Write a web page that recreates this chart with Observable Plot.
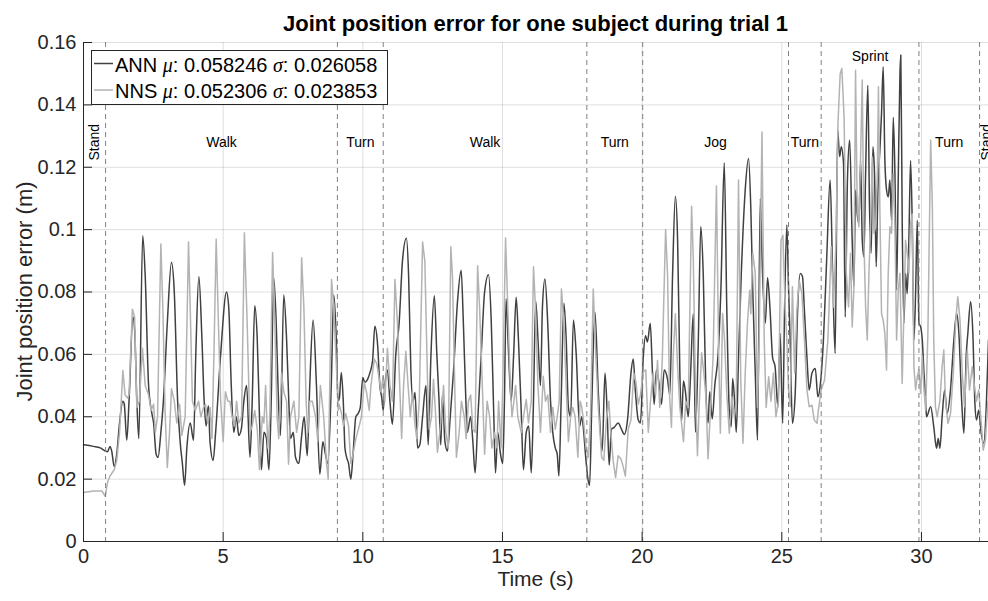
<!DOCTYPE html>
<html>
<head>
<meta charset="utf-8">
<script src="https://cdn.jsdelivr.net/npm/d3@7"></script>
<script src="https://cdn.jsdelivr.net/npm/@observablehq/plot@0.6"></script>
<style>
  html, body { margin: 0; padding: 0; background: #fff; }
  #chart svg { display: block; }
</style>
</head>
<body>
<div id="chart"></div>
<script>
// Joint position error per frame, [time (s), error (m)]
const annSeries = [
  [0,0.031],[0.36,0.0305],[0.6,0.030],[0.78,0.029],[0.86,0.0288],[0.95,0.0305],[1.01,0.029],[1.10,0.024],[1.19,0.028],[1.29,0.038],
  [1.41,0.045],[1.46,0.044],[1.55,0.0325],[1.63,0.045],[1.77,0.072],[1.83,0.068],[1.91,0.045],[1.98,0.033],[2.12,0.098],[2.21,0.085],
  [2.33,0.05],[2.45,0.041],[2.51,0.038],[2.60,0.028],[2.67,0.027],[2.77,0.035],[2.86,0.045],[3.0,0.07],[3.15,0.0895],[3.25,0.080],
  [3.37,0.045],[3.46,0.032],[3.54,0.025],[3.62,0.018],[3.70,0.030],[3.82,0.038],[3.94,0.0325],[4.02,0.06],[4.13,0.085],[4.24,0.065],
  [4.32,0.045],[4.39,0.037],[4.47,0.0435],[4.53,0.032],[4.64,0.026],[4.73,0.035],[4.91,0.06],[5.12,0.080],[5.20,0.075],[5.29,0.05],
  [5.38,0.035],[5.47,0.04],[5.56,0.034],[5.65,0.036],[5.74,0.045],[5.84,0.05],[5.96,0.027],[6.04,0.045],[6.13,0.0756],[6.22,0.065],
  [6.30,0.04],[6.37,0.023],[6.46,0.035],[6.55,0.033],[6.64,0.023],[6.72,0.045],[6.81,0.0845],[6.90,0.07],[6.98,0.045],[7.05,0.034],
  [7.17,0.079],[7.27,0.065],[7.35,0.045],[7.41,0.033],[7.51,0.035],[7.59,0.027],[7.71,0.025],[7.80,0.033],[7.90,0.04],[8.01,0.0275],
  [8.10,0.05],[8.22,0.071],[8.34,0.05],[8.46,0.0216],[8.57,0.032],[8.66,0.028],[8.75,0.025],[8.87,0.05],[8.96,0.079],[9.06,0.062],
  [9.11,0.045],[9.16,0.046],[9.23,0.0542],[9.30,0.045],[9.36,0.03],[9.42,0.027],[9.49,0.025],[9.57,0.02],[9.65,0.028],[9.75,0.040],
  [9.83,0.041],[9.91,0.043],[10.0,0.0526],[10.07,0.051],[10.17,0.052],[10.25,0.054],[10.35,0.058],[10.43,0.069],[10.53,0.063],[10.61,0.05],
  [10.68,0.046],[10.73,0.042],[10.79,0.05],[10.88,0.055],[10.97,0.045],[11.06,0.0376],[11.18,0.06],[11.30,0.07],[11.42,0.09],[11.56,0.0972],
  [11.64,0.085],[11.72,0.055],[11.80,0.045],[11.87,0.0478],[11.96,0.03],[12.04,0.031],[12.14,0.04],[12.26,0.05],[12.34,0.031],[12.44,0.06],
  [12.56,0.0788],[12.65,0.06],[12.73,0.045],[12.79,0.031],[12.85,0.047],[12.94,0.032],[13.03,0.029],[13.13,0.04],[13.25,0.055],[13.39,0.077],
  [13.52,0.087],[13.60,0.07],[13.69,0.045],[13.74,0.035],[13.86,0.04],[13.94,0.032],[14.02,0.022],[14.12,0.04],[14.24,0.06],[14.36,0.08],
  [14.50,0.0855],[14.60,0.07],[14.69,0.04],[14.75,0.022],[14.83,0.035],[14.93,0.028],[15.01,0.025],[15.07,0.045],[15.13,0.0778],[15.22,0.06],
  [15.31,0.045],[15.40,0.06],[15.49,0.0783],[15.57,0.065],[15.67,0.042],[15.75,0.023],[15.85,0.035],[15.94,0.037],[16.03,0.022],[16.11,0.045],
  [16.19,0.077],[16.27,0.065],[16.36,0.05],[16.43,0.075],[16.52,0.0842],[16.62,0.07],[16.72,0.045],[16.80,0.035],[16.89,0.03],[16.96,0.028],
  [17.02,0.021],[17.10,0.045],[17.20,0.0764],[17.28,0.065],[17.36,0.043],[17.44,0.04],[17.54,0.071],[17.64,0.06],[17.76,0.037],[17.84,0.04],
  [17.91,0.035],[17.97,0.028],[18.06,0.02],[18.12,0.018],[18.20,0.045],[18.31,0.0736],[18.43,0.048],[18.57,0.029],[18.67,0.054],[18.75,0.041],
  [18.82,0.0245],[18.90,0.036],[19.0,0.0366],[19.14,0.038],[19.26,0.036],[19.36,0.0343],[19.48,0.0393],[19.60,0.054],[19.68,0.0585],[19.76,0.048],
  [19.86,0.039],[19.94,0.038],[20.04,0.059],[20.12,0.066],[20.19,0.064],[20.29,0.070],[20.37,0.054],[20.43,0.044],[20.51,0.055],[20.60,0.051],
  [20.69,0.044],[20.79,0.055],[20.91,0.052],[20.99,0.047],[21.09,0.0856],[21.19,0.1107],[21.27,0.0965],[21.35,0.054],[21.41,0.0385],[21.48,0.0515],
  [21.55,0.048],[21.65,0.04],[21.73,0.0527],[21.83,0.073],[21.91,0.035],[22.01,0.064],[22.10,0.101],[22.19,0.085],[22.28,0.049],[22.36,0.038],
  [22.42,0.048],[22.51,0.0393],[22.60,0.05],[22.72,0.06],[22.82,0.081],[22.94,0.1214],[23.03,0.075],[23.12,0.042],[23.19,0.0368],[23.24,0.0523],
  [23.31,0.045],[23.37,0.035],[23.45,0.059],[23.55,0.086],[23.69,0.1127],[23.81,0.1228],[23.89,0.107],[23.96,0.0806],[24.05,0.054],[24.13,0.0325],
  [24.23,0.11],[24.31,0.086],[24.41,0.07],[24.49,0.0846],[24.58,0.0742],[24.67,0.059],[24.76,0.056],[24.86,0.043],[24.94,0.0667],[25.03,0.0379],
  [25.10,0.075],[25.18,0.1015],[25.24,0.0817],[25.30,0.0646],[25.38,0.0379],[25.48,0.0475],[25.57,0.075],[25.66,0.0859],[25.74,0.085],[25.81,0.074],
  [25.90,0.059],[25.98,0.0486],[26.08,0.054],[26.20,0.0555],[26.29,0.0464],[26.37,0.0496],[26.49,0.0646],[26.61,0.0913],[26.73,0.1159],[26.82,0.086],
  [26.91,0.0603],[27.0,0.132],[27.07,0.1234],[27.13,0.1266],[27.21,0.1212],[27.27,0.072],[27.35,0.1159],[27.43,0.1287],[27.52,0.0966],[27.58,0.0817],
  [27.64,0.1127],[27.70,0.105],[27.76,0.102],[27.82,0.1222],[27.88,0.0966],[27.94,0.0913],[28.0,0.118],[28.08,0.1463],[28.14,0.1073],[28.20,0.0924],
  [28.26,0.1266],[28.32,0.118],[28.38,0.0881],[28.44,0.1127],[28.51,0.1255],[28.57,0.1372],[28.63,0.1522],[28.69,0.1222],[28.75,0.1127],[28.81,0.1105],
  [28.87,0.1159],[28.93,0.103],[28.99,0.136],[29.05,0.118],[29.11,0.0806],[29.17,0.117],[29.23,0.15],[29.26,0.156],[29.31,0.103],[29.37,0.07],
  [29.43,0.086],[29.49,0.0795],[29.55,0.0966],[29.61,0.1222],[29.67,0.102],[29.73,0.0646],[29.79,0.0795],[29.85,0.103],[29.91,0.07],[29.97,0.0688],
  [30.03,0.0646],[30.09,0.054],[30.15,0.045],[30.18,0.04],[30.33,0.0432],[30.44,0.0368],[30.54,0.0299],[30.60,0.033],[30.66,0.0299],[30.74,0.04],
  [30.83,0.0486],[30.92,0.041],[31.04,0.0486],[31.16,0.0646],[31.26,0.0731],[31.34,0.0667],[31.44,0.045],[31.52,0.0347],[31.60,0.0592],[31.66,0.0667],
  [31.76,0.0769],[31.84,0.0667],[31.91,0.045],[31.97,0.039],[32.05,0.0421],[32.14,0.0347],[32.23,0.0315],[32.32,0.0432],[32.40,0.0646]
];

const nnsSeries = [
  [0,0.0157],[0.36,0.0162],[0.66,0.0162],[0.78,0.0145],[0.86,0.019],[0.95,0.021],[1.10,0.023],[1.19,0.026],[1.29,0.035],[1.41,0.0548],
  [1.49,0.047],[1.58,0.046],[1.63,0.047],[1.75,0.0745],[1.83,0.072],[1.91,0.043],[2.0,0.045],[2.11,0.062],[2.21,0.05],[2.33,0.047],
  [2.42,0.042],[2.51,0.044],[2.57,0.035],[2.65,0.04],[2.77,0.0954],[2.84,0.075],[2.92,0.042],[3.0,0.0237],[3.08,0.035],[3.15,0.049],
  [3.25,0.045],[3.34,0.038],[3.44,0.044],[3.52,0.034],[3.64,0.04],[3.76,0.096],[3.82,0.075],[3.90,0.045],[4.0,0.042],[4.12,0.045],
  [4.20,0.04],[4.30,0.043],[4.37,0.044],[4.44,0.038],[4.53,0.043],[4.60,0.033],[4.67,0.06],[4.75,0.097],[4.83,0.07],[4.91,0.045],
  [5.0,0.032],[5.08,0.048],[5.17,0.045],[5.24,0.045],[5.32,0.04],[5.41,0.037],[5.48,0.045],[5.56,0.038],[5.66,0.04],[5.76,0.099],
  [5.86,0.07],[5.96,0.035],[6.04,0.037],[6.13,0.042],[6.22,0.036],[6.30,0.023],[6.40,0.04],[6.46,0.038],[6.52,0.05],[6.60,0.03],
  [6.67,0.04],[6.77,0.0927],[6.85,0.07],[6.93,0.04],[6.99,0.033],[7.09,0.054],[7.17,0.048],[7.27,0.045],[7.34,0.0248],[7.41,0.04],
  [7.53,0.045],[7.63,0.035],[7.71,0.04],[7.81,0.091],[7.89,0.075],[7.97,0.045],[8.03,0.035],[8.10,0.045],[8.19,0.045],[8.31,0.04],
  [8.39,0.032],[8.48,0.05],[8.60,0.04],[8.70,0.025],[8.76,0.02],[8.88,0.084],[8.96,0.075],[9.06,0.055],[9.12,0.042],[9.15,0.044],
  [9.24,0.041],[9.31,0.037],[9.39,0.041],[9.49,0.037],[9.57,0.025],[9.65,0.028],[9.75,0.033],[9.87,0.037],[9.95,0.04],[10.05,0.051],
  [10.13,0.048],[10.23,0.042],[10.29,0.05],[10.41,0.0585],[10.50,0.057],[10.59,0.052],[10.65,0.048],[10.73,0.053],[10.79,0.045],[10.88,0.062],
  [10.97,0.05],[11.06,0.045],[11.15,0.084],[11.24,0.07],[11.30,0.055],[11.39,0.033],[11.46,0.05],[11.54,0.061],[11.62,0.05],[11.70,0.04],
  [11.78,0.048],[11.86,0.038],[11.93,0.033],[12.02,0.045],[12.14,0.096],[12.22,0.09],[12.32,0.05],[12.38,0.036],[12.46,0.04],[12.53,0.052],
  [12.61,0.04],[12.67,0.0286],[12.77,0.036],[12.89,0.05],[12.97,0.035],[13.06,0.03],[13.15,0.0945],[13.21,0.085],[13.29,0.05],[13.35,0.027],
  [13.45,0.035],[13.53,0.045],[13.63,0.04],[13.70,0.033],[13.78,0.045],[13.86,0.047],[13.94,0.036],[14.02,0.035],[14.11,0.0884],[14.18,0.075],
  [14.26,0.055],[14.36,0.028],[14.45,0.045],[14.54,0.04],[14.62,0.03],[14.72,0.035],[14.80,0.03],[14.86,0.045],[14.95,0.03],[15.01,0.05],
  [15.11,0.0973],[15.19,0.075],[15.28,0.05],[15.34,0.04],[15.41,0.045],[15.47,0.05],[15.55,0.04],[15.67,0.035],[15.75,0.04],[15.85,0.0455],
  [15.93,0.038],[16.03,0.045],[16.11,0.0881],[16.18,0.075],[16.27,0.05],[16.36,0.035],[16.46,0.053],[16.54,0.045],[16.62,0.047],[16.72,0.035],
  [16.80,0.043],[16.89,0.036],[16.96,0.04],[17.03,0.045],[17.11,0.081],[17.20,0.07],[17.28,0.05],[17.36,0.032],[17.44,0.04],[17.52,0.043],
  [17.60,0.04],[17.70,0.027],[17.78,0.045],[17.84,0.043],[17.91,0.038],[17.99,0.03],[18.08,0.027],[18.15,0.04],[18.25,0.081],[18.33,0.062],
  [18.43,0.043],[18.55,0.027],[18.63,0.026],[18.72,0.039],[18.81,0.045],[18.87,0.036],[18.96,0.026],[19.05,0.0205],[19.14,0.0275],[19.24,0.0265],
  [19.32,0.024],[19.40,0.021],[19.50,0.036],[19.60,0.039],[19.70,0.054],[19.78,0.051],[19.86,0.044],[19.94,0.047],[20.04,0.0545],[20.13,0.055],
  [20.22,0.035],[20.30,0.045],[20.39,0.054],[20.48,0.047],[20.55,0.058],[20.63,0.043],[20.72,0.058],[20.84,0.1],[20.91,0.0856],[20.98,0.047],
  [21.05,0.0366],[21.11,0.059],[21.19,0.073],[21.27,0.056],[21.35,0.043],[21.41,0.038],[21.48,0.032],[21.56,0.045],[21.65,0.043],[21.77,0.1075],
  [21.83,0.091],[21.91,0.048],[21.98,0.0275],[22.04,0.043],[22.13,0.0605],[22.21,0.054],[22.28,0.047],[22.36,0.0265],[22.45,0.043],[22.54,0.059],
  [22.66,0.114],[22.74,0.06],[22.80,0.0347],[22.88,0.0731],[22.95,0.0646],[23.03,0.0475],[23.12,0.0347],[23.21,0.0464],[23.30,0.04],[23.37,0.045],
  [23.45,0.1159],[23.53,0.0518],[23.61,0.0315],[23.69,0.054],[23.77,0.07],[23.85,0.0806],[23.89,0.073],[23.96,0.0924],[24.05,0.086],[24.13,0.043],
  [24.19,0.0646],[24.29,0.1313],[24.37,0.0646],[24.44,0.043],[24.53,0.0528],[24.61,0.045],[24.70,0.054],[24.79,0.04],[24.88,0.045],[24.97,0.0966],
  [25.04,0.0982],[25.12,0.075],[25.18,0.0646],[25.24,0.0486],[25.30,0.0432],[25.38,0.0817],[25.46,0.054],[25.54,0.0742],[25.62,0.0838],[25.72,0.0795],
  [25.81,0.0646],[25.90,0.0486],[25.98,0.0432],[26.08,0.0437],[26.16,0.039],[26.26,0.0379],[26.31,0.0421],[26.41,0.0486],[26.53,0.0518],[26.65,0.0646],
  [26.77,0.0945],[26.85,0.0752],[26.94,0.0966],[27.01,0.134],[27.09,0.15],[27.15,0.1517],[27.23,0.136],[27.31,0.086],[27.39,0.0752],[27.46,0.0924],
  [27.52,0.0688],[27.58,0.0806],[27.64,0.1511],[27.70,0.1073],[27.76,0.1009],[27.82,0.1233],[27.88,0.148],[27.94,0.0966],[28.0,0.0752],[28.06,0.0646],
  [28.12,0.086],[28.18,0.102],[28.24,0.1233],[28.30,0.0988],[28.36,0.1009],[28.42,0.118],[28.46,0.1458],[28.51,0.1073],[28.57,0.0731],[28.63,0.071],
  [28.69,0.0667],[28.75,0.055],[28.81,0.086],[28.87,0.1009],[28.93,0.0988],[28.99,0.118],[29.05,0.1009],[29.11,0.0646],[29.17,0.0806],[29.23,0.086],
  [29.31,0.0507],[29.37,0.0731],[29.43,0.0966],[29.49,0.0924],[29.55,0.086],[29.61,0.102],[29.67,0.105],[29.73,0.056],[29.79,0.0486],[29.85,0.0528],
  [29.91,0.055],[29.97,0.0475],[30.03,0.0592],[30.09,0.0486],[30.15,0.0421],[30.23,0.0667],[30.33,0.1287],[30.39,0.1073],[30.44,0.0646],[30.50,0.0432],
  [30.56,0.04],[30.66,0.045],[30.74,0.056],[30.80,0.0614],[30.86,0.045],[30.95,0.0379],[31.04,0.041],[31.14,0.054],[31.23,0.071],[31.30,0.0785],
  [31.38,0.071],[31.46,0.054],[31.54,0.0432],[31.64,0.0614],[31.72,0.0486],[31.82,0.056],[31.90,0.0496],[31.97,0.045],[32.05,0.0486],[32.14,0.0379],
  [32.21,0.0293],[32.29,0.0325],[32.38,0.045]
];

// Activity segments of the trial
const phaseBounds = [0.79, 9.09, 10.73, 18.02, 20.02, 25.24, 26.41, 29.91, 32.08];
const phaseNames = ["Stand", "Walk", "Turn", "Walk", "Turn", "Jog", "Turn", "Sprint", "Turn", "Stand"];
const trialEnd = 32.6;

const xTicks = [0, 5, 10, 15, 20, 25, 30];
const yTicks = [0, 0.02, 0.04, 0.06, 0.08, 0.1, 0.12, 0.14, 0.16];

const legendEntries = [
  {name: "ANN", mu: "0.058246", sigma: "0.026058", color: "#404040"},
  {name: "NNS", mu: "0.052306", sigma: "0.023853", color: "#b3b3b3"}
];

const edges = [0, ...phaseBounds, trialEnd];
const phaseLabels = phaseNames.map((name, i) => ({
  name,
  t: (edges[i] + edges[i + 1]) / 2,
  y: name === "Sprint" ? 0.1555 : 0.128,
  rotate: name === "Stand" ? -90 : 0
}));

const W = 988, H = 601;
const mL = 83, mR = 0, mT = 42, mB = 60;
const frameW = W - mL - mR, frameH = H - mT - mB;
const axisColor = "#262626";
const font = "'Liberation Sans', Arial, Helvetica, sans-serif";

const chart = Plot.plot({
  width: W,
  height: H,
  marginLeft: mL,
  marginRight: mR,
  marginTop: mT,
  marginBottom: mB,
  style: {fontFamily: font, color: axisColor, background: "#fff"},
  x: {domain: [0, 32.4]},
  y: {domain: [0, 0.16]},
  marks: [
    Plot.gridX(xTicks, {stroke: axisColor, strokeOpacity: 0.15}),
    Plot.gridY(yTicks, {stroke: axisColor, strokeOpacity: 0.15}),
    Plot.line(annSeries, {x: d => d[0], y: d => d[1], stroke: legendEntries[0].color, strokeWidth: 1.5, curve: "monotone-x"}),
    Plot.line(nnsSeries, {x: d => d[0], y: d => d[1], stroke: legendEntries[1].color, strokeWidth: 1.5}),
    Plot.ruleX(phaseBounds, {stroke: "#808080", strokeWidth: 1, strokeDasharray: "5,4"}),
    Plot.text(phaseLabels, {
      x: "t", y: "y", text: "name", rotate: "rotate",
      fontSize: 14, fill: "#000", lineAnchor: "middle", textAnchor: "middle"
    }),
    // inward tick marks
    Plot.ruleX(xTicks, {stroke: axisColor, insetTop: frameH - 9}),
    Plot.ruleY(yTicks, {stroke: axisColor, insetRight: frameW - 9}),
    Plot.axisX(xTicks, {tickSize: 0, tickPadding: 7, fontSize: 20, label: null, fill: axisColor}),
    Plot.axisY(yTicks, {tickSize: 0, tickPadding: 7, fontSize: 20, label: null, fill: axisColor,
      tickFormat: d => String(+d.toFixed(2))}),
    Plot.ruleY([0], {stroke: axisColor, strokeWidth: 1}),
    Plot.ruleX([0], {stroke: axisColor, strokeWidth: 1})
  ]
});

const svg = d3.select(chart);

// Title and axis labels
svg.append("text")
  .attr("x", mL + frameW / 2).attr("y", 31)
  .attr("text-anchor", "middle")
  .attr("font-family", font).attr("font-size", 22).attr("font-weight", "bold")
  .attr("fill", "#000")
  .text("Joint position error for one subject during trial 1");

svg.append("text")
  .attr("x", mL + frameW / 2).attr("y", 586)
  .attr("text-anchor", "middle")
  .attr("font-family", font).attr("font-size", 21)
  .attr("fill", axisColor)
  .text("Time (s)");

svg.append("text")
  .attr("transform", `translate(32,${mT + frameH / 2}) rotate(-90)`)
  .attr("text-anchor", "middle")
  .attr("font-family", font).attr("font-size", 22)
  .attr("fill", axisColor)
  .text("Joint position error (m)");

// Legend box
const legend = svg.append("g")
  .attr("font-family", font).attr("font-size", 20).attr("text-anchor", "start");
legend.append("rect")
  .attr("x", 91.5).attr("y", 50.5).attr("width", 296).attr("height", 54)
  .attr("fill", "#fff").attr("stroke", axisColor).attr("stroke-width", 1);

legendEntries.forEach((e, i) => {
  const cy = 63.5 + i * 26.5;
  legend.append("line")
    .attr("x1", 94).attr("x2", 113).attr("y1", cy).attr("y2", cy)
    .attr("stroke", e.color).attr("stroke-width", 1.5);
  const t = legend.append("text")
    .attr("x", 115).attr("y", cy + 8)
    .attr("text-anchor", "start")
    .attr("fill", "#000");
  t.append("tspan").text(e.name + " ");
  t.append("tspan").attr("font-family", "'Liberation Serif', 'DejaVu Serif', serif")
    .attr("font-style", "italic").text("\u03bc");
  t.append("tspan").text(": " + e.mu + " ");
  t.append("tspan").attr("font-family", "'Liberation Serif', 'DejaVu Serif', serif")
    .attr("font-style", "italic").text("\u03c3");
  t.append("tspan").text(": " + e.sigma);
});

document.getElementById("chart").appendChild(chart);
</script>
</body>
</html>
